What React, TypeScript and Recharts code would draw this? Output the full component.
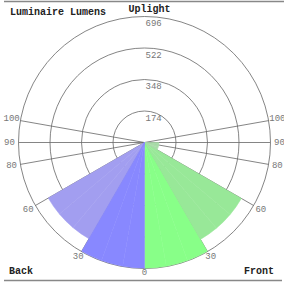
import { RadialBarChart, RadialBar, PolarGrid, PolarAngleAxis, PolarRadiusAxis, Cell } from 'recharts'

// 30 degree zones, counter-clockwise from nadir: front side first, then back side
const ZONES = [
  'Front 0-30', 'Front 30-60', 'Front 60-90', 'Front 90-120', 'Front 120-150', 'Front 150-180',
  'Back 180-150', 'Back 150-120', 'Back 120-90', 'Back 90-60', 'Back 60-30', 'Back 30-0',
]
const LUMENS = [694, 618, 80, 0, 0, 0, 0, 0, 0, 0, 614, 694]
const ZONE_COLORS = [
  '#88ff88', '#98e898', '#a8dca8', '#98e898', '#98e898', '#98e898',
  '#a29ef0', '#a29ef0', '#a29ef0', '#a29ef0', '#a29ef0', '#8888ff',
]

const RADIUS_TICKS = [174, 348, 522, 696]
// nadir angles going round through the front side; back side written as 360 - angle
const ANGLE_TICKS = [0, 30, 60, 80, 90, 100, 260, 270, 280, 300, 330]
const SPOKE_TICKS = [30, 60, 80, 90, 100, 260, 270, 280, 300, 330]
const STEP = 10

// 10 degree rows so the angle axis can carry the 80/90/100 labels
const data = Array.from({ length: 360 / STEP }, (_, i) => {
  const zone = Math.floor((i * STEP) / 30)
  return { deg: i * STEP, zone: ZONES[zone], lumens: LUMENS[zone], color: ZONE_COLORS[zone] }
})

const MONO = '"Liberation Mono", "DejaVu Sans Mono", monospace'
const RAD = Math.PI / 180

function RadiusTick({ x, y, payload }: any) {
  return (
    <text x={x + 1} y={y + 9.5} textAnchor="start" fontSize={9} fontFamily={MONO} fill="#777">
      {payload.value}
    </text>
  )
}

function AngleTick({ cx, cy, radius, payload }: any) {
  const v = Number(payload.value)
  if (!ANGLE_TICKS.includes(v)) return null
  const a = (v - 90) * RAD
  const c = Math.cos(a)
  const r = radius + 4 + 5 * Math.abs(c)
  return (
    <text
      x={cx + r * c}
      y={cy - r * Math.sin(a)}
      textAnchor="middle"
      dominantBaseline="central"
      fontSize={9}
      fontFamily={MONO}
      fill="#777"
    >
      {v <= 180 ? v : 360 - v}
    </text>
  )
}

export default function App() {
  return (
    <div style={{ position: 'absolute', left: 0, top: 0, width: 284, height: 284, background: '#fff' }}>
      <RadialBarChart
        width={284}
        height={284}
        data={data}
        layout="centric"
        cx={144.5}
        cy={142.5}
        innerRadius={0}
        outerRadius={126}
        startAngle={-80}
        endAngle={280}
        barCategoryGap={0}
        margin={{ top: 0, right: 0, bottom: 0, left: 0 }}
      >
        <PolarAngleAxis type="category" dataKey="deg" tick={<AngleTick />} axisLine={false} tickLine={false} />
        <PolarRadiusAxis
          type="number"
          domain={[0, 696]}
          ticks={RADIUS_TICKS}
          angle={90}
          axisLine={false}
          tickLine={false}
          tick={<RadiusTick />}
        />
        <RadialBar dataKey="lumens" isAnimationActive={false}>
          {data.map((d) => (
            <Cell key={d.deg} fill={d.color} stroke={d.color} strokeWidth={0.5} />
          ))}
        </RadialBar>
        <PolarGrid
          gridType="circle"
          polarAngles={SPOKE_TICKS.map((v) => v - 90)}
          polarRadius={RADIUS_TICKS.map((t) => (t / 696) * 126)}
          stroke="#666"
          strokeWidth={0.8}
        />
      </RadialBarChart>
      <svg width={284} height={284} style={{ position: 'absolute', left: 0, top: 0, pointerEvents: 'none' }}>
        <line x1={4} y1={1.5} x2={284} y2={1.5} stroke="#888" strokeWidth={1.5} />
        <line x1={4} y1={280.5} x2={282} y2={280.5} stroke="#888" strokeWidth={1.5} />
        <text x={10} y={15} fontSize={10} fontWeight="bold" fontFamily={MONO} fill="#222">Luminaire Lumens</text>
        <text x={149.5} y={12} textAnchor="middle" fontSize={10} fontWeight="bold" fontFamily={MONO} fill="#222">Uplight</text>
        <text x={9} y={274} fontSize={10} fontWeight="bold" fontFamily={MONO} fill="#222">Back</text>
        <text x={244} y={274} fontSize={10} fontWeight="bold" fontFamily={MONO} fill="#222">Front</text>
      </svg>
    </div>
  )
}
